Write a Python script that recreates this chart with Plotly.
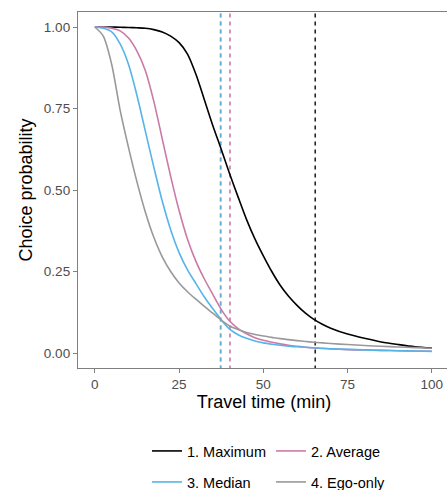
import plotly.graph_objects as go

# ---- data ----
travel_time = [0, 2.5, 5, 7.5, 10, 12.5, 15, 17.5, 20, 22.5, 25, 27.5, 30, 32.5, 35,
               37.5, 40, 42.5, 45, 47.5, 50, 52.5, 55, 57.5, 60, 62.5, 65, 67.5, 70,
               75, 80, 85, 90, 95, 100]

p_maximum = [1.0, 1.0, 0.9998, 0.9993, 0.9985, 0.9975, 0.996, 0.992, 0.985, 0.972, 0.952,
             0.917, 0.855, 0.777, 0.698, 0.625, 0.55, 0.479, 0.41, 0.35, 0.298, 0.25,
             0.208, 0.174, 0.146, 0.122, 0.103, 0.088, 0.076, 0.058, 0.045, 0.034,
             0.026, 0.019, 0.015]

p_average = [1.0, 0.9995, 0.996, 0.988, 0.966, 0.926, 0.866, 0.772, 0.657, 0.542, 0.437,
             0.349, 0.281, 0.227, 0.18, 0.134, 0.098, 0.075, 0.059, 0.047, 0.039,
             0.033, 0.028, 0.024, 0.0205, 0.0178, 0.0155, 0.0138, 0.0123, 0.0105,
             0.009, 0.008, 0.007, 0.006, 0.0055]

p_median = [1.0, 0.996, 0.985, 0.948, 0.885, 0.79, 0.68, 0.57, 0.466, 0.378, 0.308,
            0.255, 0.213, 0.172, 0.136, 0.102, 0.073, 0.056, 0.045, 0.037, 0.031, 0.027,
            0.0238, 0.0212, 0.019, 0.0175, 0.0163, 0.0145, 0.013, 0.011, 0.0095,
            0.008, 0.007, 0.006, 0.005]

p_ego_only = [1.0, 0.972, 0.885, 0.745, 0.63, 0.525, 0.432, 0.355, 0.295, 0.25, 0.215,
              0.188, 0.165, 0.143, 0.122, 0.101, 0.083, 0.072, 0.063, 0.057, 0.052,
              0.048, 0.044, 0.041, 0.038, 0.0355, 0.033, 0.031, 0.029, 0.026, 0.023,
              0.0205, 0.0185, 0.0165, 0.0145]

series_names = ["1. Maximum", "2. Average", "3. Median", "4. Ego-only"]
series_values = [p_maximum, p_average, p_median, p_ego_only]
series_colors = ["#000000", "#CC79A7", "#56B4E9", "#999999"]
series_legend = ["legend", "legend", "legend2", "legend2"]

# travel time at which each choice probability falls to 0.1 (dashed lines)
threshold_time = [65.4, 40.1, 37.4, 37.3]
threshold_order = [0, 1, 3, 2]
threshold_opacity = [0.85, 1.0, 0.75, 1.0]

x_ticks = [0, 25, 50, 75, 100]
y_ticks = [0.0, 0.25, 0.5, 0.75, 1.0]
y_ticklabels = ["0.00", "0.25", "0.50", "0.75", "1.00"]

# ---- figure ----
fig = go.Figure()

for i in threshold_order:
    fig.add_trace(go.Scatter(
        x=[threshold_time[i], threshold_time[i]], y=[-0.1, 1.1],
        mode="lines", line=dict(color=series_colors[i], width=1.6, dash="4px,4px"),
        opacity=threshold_opacity[i],
        showlegend=False, hoverinfo="skip", cliponaxis=True))

for name, vals, col, lg in zip(series_names, series_values, series_colors, series_legend):
    fig.add_trace(go.Scatter(
        x=travel_time, y=vals, mode="lines", name=name,
        line=dict(color=col, width=1.6, shape="spline", smoothing=0.8),
        legend=lg))

font_family = "Liberation Sans, Arial, sans-serif"
axis_col = "#7f7f7f"

legend_common = dict(orientation="h", xref="container", yref="container",
                     xanchor="left", yanchor="middle",
                     entrywidth=79, entrywidthmode="pixels",
                     font=dict(size=14.5, color="#000000"), bgcolor="rgba(0,0,0,0)",
                     traceorder="normal", itemwidth=30)

fig_w = 450  # panel's right border falls just outside the 447px window, as in the reference

fig.update_layout(
    width=fig_w, height=490,
    margin=dict(l=78, r=0, t=12, b=122, autoexpand=False),
    paper_bgcolor="white", plot_bgcolor="white",
    font=dict(family=font_family, color="#000000"),
    legend=dict(legend_common, x=147 / fig_w, y=1 - 451 / 490),
    legend2=dict(legend_common, x=147 / fig_w, y=1 - 482 / 490),
    xaxis=dict(range=[-5, 105.4], tickvals=x_ticks, showgrid=False, zeroline=False,
               showline=True, linecolor=axis_col, linewidth=1.3, mirror=True,
               ticks="outside", ticklen=4, tickwidth=1.3, tickcolor=axis_col,
               tickfont=dict(size=13.5, color="#4d4d4d"), automargin=False,
               title=dict(text="Travel time (min)", font=dict(size=18), standoff=1)),
    yaxis=dict(range=[-0.046, 1.046], tickvals=y_ticks, ticktext=y_ticklabels,
               showgrid=False, zeroline=False,
               showline=True, linecolor=axis_col, linewidth=1.3, mirror=True,
               ticks="outside", ticklen=4, tickwidth=1.3, tickcolor=axis_col,
               tickfont=dict(size=13.5, color="#4d4d4d"), automargin=False,
               title=dict(text="Choice probability", font=dict(size=18), standoff=6)),
)

fig.write_html(
    "out.html",
    config={"displayModeBar": False},
    post_script="document.body.style.margin='0';document.body.style.overflow='hidden';",
)
